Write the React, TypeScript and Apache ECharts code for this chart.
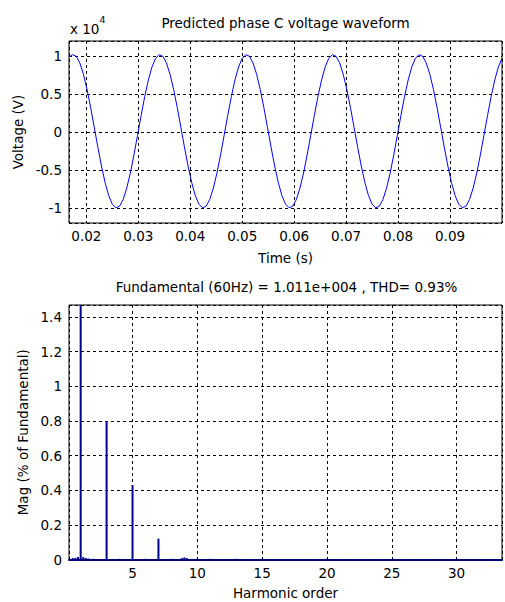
import React, { useEffect, useRef } from "react";
import * as echarts from "echarts";

// ---- Top plot: predicted phase C voltage (V), sampled from t = 1/60 s ----
const SAMPLE_RATE_HZ = 1440;
const T_START = 1 / 60;
const VOLTAGE = [
  9890, 10196, 9988, 9108, 7612, 5610, 3224, 626, -2003, -4490, -6664, -8382,
  -9515, -9996, -9788, -8908, -7412, -5410, -3024, -426, 2203, 4690, 6864, 8582,
  9715, 10190, 9985, 9110, 7608, 5614, 3220, 630, -2000, -4494, -6660, -8385,
  -9512, -9998, -9790, -8905, -7415, -5406, -3028, -422, 2206, 4686, 6868, 8578,
  9718, 10194, 9990, 9104, 7616, 5606, 3228, 622, -2006, -4486, -6668, -8378,
  -9518, -9994, -9785, -8911, -7409, -5414, -3020, -430, 2200, 4694, 6860, 8586,
  9712, 10198, 9984, 9112, 7610, 5612, 3222, 628, -2001, -4492, -6662, -8384,
  -9514, -9997, -9791, -8906, -7414, -5408, -3026, -424, 2205, 4688, 6866, 8580,
  9716, 10195, 9989, 9106, 7614, 5608, 3226, 624, -2005, -4488, -6666, -8380,
  -9516, -9995, -9787, -8910, -7410, -5412, -3022, -428, 2202, 4692, 6862, 8584,
  9714,
];
const TIME_TICKS = [0.02, 0.03, 0.04, 0.05, 0.06, 0.07, 0.08, 0.09];
const VOLT_TICKS = [-1, -0.5, 0, 0.5, 1]; // x 10^4

// ---- Bottom plot: harmonic spectrum (% of fundamental) ----
const HARMONIC_ORDERS = [
  0.4, 0.6, 0.8, 1, 1.2, 1.4, 1.6, 2, 3, 4, 5, 6, 7, 8, 8.8, 9, 9.2, 10, 11, 12,
  13, 14, 15, 16, 17, 18, 19, 20, 21, 22, 23, 24, 25, 26, 27, 28, 29, 30, 31, 32, 33,
];
const HARMONIC_MAG = [
  0.008, 0.01, 0.014, 100, 0.014, 0.008, 0.006, 0.004, 0.8, 0.004, 0.43, 0.004, 0.12,
  0.004, 0.008, 0.012, 0.008, 0.004, 0.004, 0.003, 0.004, 0.003, 0.004, 0.003, 0.003,
  0.003, 0.003, 0.004, 0.003, 0.003, 0.003, 0.003, 0.003, 0.003, 0.003, 0.003, 0.003,
  0.003, 0.003, 0.003, 0.003,
];
const ORDER_TICKS = [5, 10, 15, 20, 25, 30];
const MAG_TICKS = [0, 0.2, 0.4, 0.6, 0.8, 1, 1.2, 1.4];

const FONT = "DejaVu Sans";
const FS = 13.5;

const inList = (list: number[], v: number, eps: number) =>
  list.some((t) => Math.abs(t - v) < eps);

export default function App() {
  const ref = useRef<HTMLDivElement>(null);

  useEffect(() => {
    if (!ref.current) return;
    const chart = echarts.init(ref.current, null, { renderer: "svg" });

    const waveData = VOLTAGE.map((v, i) => [T_START + i / SAMPLE_RATE_HZ, v]);
    const specData = HARMONIC_ORDERS.map((h, i) => [h, HARMONIC_MAG[i]]);

    const gridLine = { lineStyle: { color: "#000", type: [3, 3] as any, width: 1 } };
    const labelBase = { color: "#000", fontFamily: FONT, fontSize: FS };
    const nameBase = { color: "#000", fontFamily: FONT, fontSize: FS };

    chart.setOption({
      animation: false,
      backgroundColor: "#fff",
      grid: [
        { left: 69, right: 3, top: 41, height: 182, show: true, borderColor: "#000", borderWidth: 1, backgroundColor: "#fff" },
        { left: 69, right: -4, top: 305, height: 254.5, show: true, borderColor: "#000", borderWidth: 1, backgroundColor: "#fff" },
      ],
      xAxis: [
        {
          type: "value",
          gridIndex: 0,
          min: T_START,
          max: 0.1,
          splitNumber: 8,
          axisLine: { show: false },
          axisTick: { show: false },
          splitLine: { show: true, ...gridLine },
          axisLabel: {
            ...labelBase,
            margin: 6,
            formatter: (v: number) => (inList(TIME_TICKS, v, 1e-6) ? v.toFixed(2) : ""),
          },
          name: "Time (s)",
          nameLocation: "middle",
          nameGap: 28,
          nameTextStyle: nameBase,
        },
        {
          type: "value",
          gridIndex: 1,
          min: 0.1,
          max: 33.5,
          splitNumber: 7,
          axisLine: { show: true, lineStyle: { color: "#00007a", width: 2 } },
          axisTick: { show: false },
          splitLine: { show: true, ...gridLine },
          axisLabel: {
            ...labelBase,
            margin: 6,
            formatter: (v: number) => (inList(ORDER_TICKS, v, 1e-6) ? String(v) : ""),
          },
          name: "Harmonic order",
          nameLocation: "middle",
          nameGap: 26,
          nameTextStyle: nameBase,
        },
      ],
      yAxis: [
        {
          type: "value",
          gridIndex: 0,
          min: -12000,
          max: 12000,
          splitNumber: 5,
          axisLine: { show: false },
          axisTick: { show: false },
          splitLine: { show: true, ...gridLine },
          axisLabel: {
            ...labelBase,
            margin: 7,
            formatter: (v: number) => {
              const s = v / 10000;
              return inList(VOLT_TICKS, s, 1e-6) ? String(Math.round(s * 10) / 10) : "";
            },
          },
          name: "Voltage (V)",
          nameLocation: "middle",
          nameGap: 44,
          nameTextStyle: nameBase,
        },
        {
          type: "value",
          gridIndex: 1,
          min: 0,
          max: 1.47,
          interval: 0.2,
          axisLine: { show: false },
          axisTick: { show: false },
          splitLine: { show: true, ...gridLine },
          axisLabel: {
            ...labelBase,
            margin: 7,
            formatter: (v: number) =>
              inList(MAG_TICKS, v, 1e-6) ? String(Math.round(v * 10) / 10) : "",
          },
          name: "Mag (% of Fundamental)",
          nameLocation: "middle",
          nameGap: 39,
          nameTextStyle: nameBase,
        },
      ],
      series: [
        {
          type: "line",
          xAxisIndex: 0,
          yAxisIndex: 0,
          data: waveData,
          showSymbol: false,
          symbol: "none",
          lineStyle: { color: "#0000ff", width: 1 },
          silent: true,
        },
        {
          type: "bar",
          xAxisIndex: 1,
          yAxisIndex: 1,
          data: specData,
          barWidth: 2,
          itemStyle: { color: "#000090" },
          clip: true,
          silent: true,
        },
      ],
      graphic: [
        {
          type: "text",
          x: 285.5,
          y: 23,
          style: {
            text: "Predicted phase C voltage waveform",
            font: `${FS}px "${FONT}"`,
            fill: "#000",
            align: "center",
            verticalAlign: "middle",
          },
        },
        {
          type: "text",
          x: 70,
          y: 28.5,
          style: {
            text: "x 10",
            font: `${FS}px "${FONT}"`,
            fill: "#000",
            align: "left",
            verticalAlign: "middle",
          },
        },
        {
          type: "text",
          x: 99.5,
          y: 19.5,
          style: {
            text: "4",
            font: `9.5px "${FONT}"`,
            fill: "#000",
            align: "left",
            verticalAlign: "middle",
          },
        },
        {
          type: "text",
          x: 286.5,
          y: 287,
          style: {
            text: "Fundamental (60Hz) = 1.011e+004 , THD= 0.93%",
            font: `${FS}px "${FONT}"`,
            fill: "#000",
            align: "center",
            verticalAlign: "middle",
          },
        },
      ],
    });

    return () => chart.dispose();
  }, []);

  return (
    <div
      ref={ref}
      style={{ position: "fixed", left: 0, top: 0, width: 505, height: 602, background: "#fff" }}
    />
  );
}
